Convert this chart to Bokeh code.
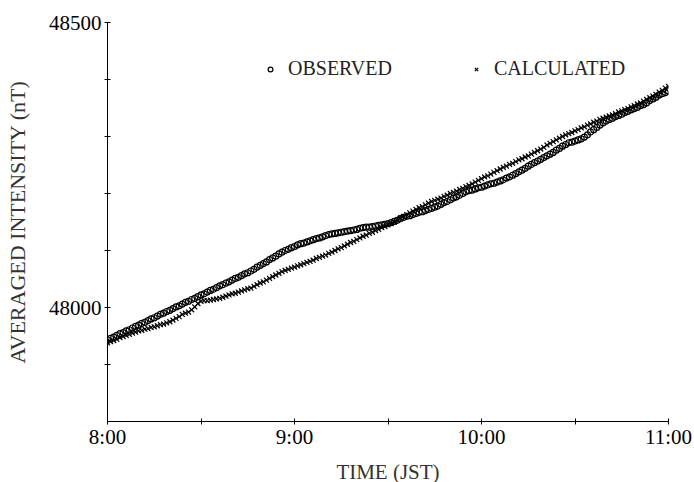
from bokeh.plotting import figure
from bokeh.models import Range1d, FixedTicker, Legend, LegendItem
from bokeh.embed import file_html
from bokeh.resources import INLINE

# minutes after 8:00 JST
minutes = list(range(0, 181))

observed = [
    47943, 47946, 47948, 47951, 47954, 47956, 47959, 47961, 47964, 47967,
    47969, 47972, 47974, 47977, 47980, 47982, 47985, 47988, 47990, 47993,
    47995, 47998, 48001, 48003, 48006, 48009, 48011, 48014, 48016, 48019,
    48022, 48024, 48027, 48030, 48032, 48035, 48038, 48040, 48043, 48045,
    48048, 48051, 48053, 48056, 48059, 48061, 48064, 48067, 48071, 48074,
    48077, 48080, 48084, 48087, 48090, 48094, 48097, 48100, 48102, 48105,
    48107, 48110, 48112, 48113, 48115, 48117, 48119, 48121, 48122, 48124,
    48126, 48128, 48129, 48130, 48131, 48132, 48133, 48134, 48135, 48136,
    48137, 48139, 48140, 48141, 48141, 48142, 48143, 48144, 48145, 48146,
    48147, 48149, 48151, 48153, 48156, 48158, 48160, 48161, 48163, 48165,
    48167, 48168, 48170, 48172, 48174, 48176, 48178, 48181, 48184, 48186,
    48189, 48192, 48194, 48197, 48200, 48203, 48205, 48206, 48208, 48210,
    48211, 48213, 48215, 48217, 48218, 48220, 48222, 48224, 48227, 48229,
    48232, 48235, 48238, 48241, 48244, 48248, 48251, 48254, 48257, 48260,
    48263, 48266, 48269, 48272, 48276, 48279, 48283, 48286, 48289, 48290,
    48292, 48294, 48296, 48299, 48303, 48308, 48312, 48316, 48320, 48324,
    48327, 48330, 48332, 48335, 48337, 48339, 48342, 48344, 48347, 48349,
    48351, 48354, 48356, 48359, 48363, 48366, 48369, 48373, 48375, 48377,
    48380,
]

calculated = [
    47938, 47940, 47942, 47944, 47947, 47949, 47951, 47953, 47955, 47957,
    47959, 47960, 47962, 47963, 47965, 47966, 47968, 47970, 47971, 47973,
    47975, 47978, 47981, 47984, 47988, 47990, 47992, 47996, 48001, 48007,
    48011, 48012, 48012, 48013, 48014, 48015, 48016, 48018, 48020, 48022,
    48024, 48025, 48027, 48029, 48031, 48033, 48034, 48037, 48040, 48043,
    48045, 48048, 48051, 48054, 48057, 48060, 48063, 48065, 48067, 48069,
    48071, 48073, 48075, 48077, 48079, 48081, 48083, 48086, 48088, 48090,
    48092, 48095, 48097, 48100, 48103, 48105, 48108, 48111, 48114, 48116,
    48119, 48122, 48125, 48127, 48130, 48132, 48135, 48137, 48140, 48142,
    48145, 48147, 48150, 48153, 48157, 48160, 48163, 48166, 48169, 48172,
    48175, 48177, 48180, 48183, 48186, 48188, 48190, 48192, 48195, 48197,
    48200, 48202, 48204, 48207, 48209, 48212, 48214, 48217, 48220, 48223,
    48226, 48229, 48231, 48234, 48237, 48240, 48243, 48246, 48248, 48251,
    48253, 48256, 48259, 48261, 48264, 48266, 48269, 48272, 48275, 48278,
    48281, 48285, 48288, 48291, 48294, 48297, 48300, 48303, 48305, 48307,
    48310, 48312, 48315, 48317, 48320, 48322, 48325, 48327, 48330, 48332,
    48334, 48336, 48338, 48340, 48343, 48345, 48347, 48349, 48352, 48354,
    48357, 48359, 48362, 48365, 48368, 48371, 48374, 48378, 48381, 48385,
    48388,
]

x_major = [0, 60, 120, 180]
x_minor = [30, 90, 150]
x_labels = ["8:00", "9:00", "10:00", "11:00"]
y_major = [48000, 48500]
y_minor = [47900, 48100, 48200, 48300, 48400]

FONT = "Liberation Serif"

p = figure(frame_width=561, frame_height=399, output_backend="svg",
           toolbar_location=None,
           x_range=Range1d(0, 180), y_range=Range1d(47800, 48500),
           min_border_left=107, min_border_right=26, min_border_top=22,
           min_border_bottom=56)
p.outline_line_color = None
p.xgrid.visible = False
p.ygrid.visible = False
p.background_fill_color = "white"
p.border_fill_color = "white"

r_obs = p.scatter(minutes, observed, marker="circle", size=6, line_color="black",
                  fill_color=None, line_width=1.2)
r_calc = p.scatter(minutes, calculated, marker="x", size=7, line_color="black",
                   line_width=1.2)

for ax in (p.xaxis[0], p.yaxis[0]):
    ax.axis_line_color = "black"
    ax.axis_line_width = 1
    ax.major_tick_in = 3
    ax.major_tick_out = 3
    ax.minor_tick_in = 3
    ax.minor_tick_out = 3
    ax.major_tick_line_color = "black"
    ax.minor_tick_line_color = "black"
    ax.major_label_text_font = FONT
    ax.major_label_text_font_size = "21px"
    ax.major_label_text_color = "black"
    ax.axis_label_text_font = FONT
    ax.axis_label_text_font_size = "21px"
    ax.axis_label_text_font_style = "normal"
    ax.axis_label_text_color = "#333333"

p.xaxis.ticker = FixedTicker(ticks=x_major, minor_ticks=x_minor)
p.xaxis.major_label_overrides = {t: l for t, l in zip(x_major, x_labels)}
p.xaxis.major_label_standoff = 0
p.xaxis.axis_label = "TIME (JST)"
p.xaxis.axis_label_standoff = 8

p.yaxis.ticker = FixedTicker(ticks=y_major, minor_ticks=y_minor)
p.yaxis.major_label_orientation = "horizontal"
p.yaxis.major_label_standoff = 3
p.yaxis.axis_label = "AVERAGED INTENSITY (nT)"
p.yaxis.axis_label_text_font_size = "22px"
p.yaxis.axis_label_standoff = 16

legend = Legend(items=[LegendItem(label="OBSERVED", renderers=[r_obs]),
                       LegendItem(label="CALCULATED", renderers=[r_calc])],
                orientation="horizontal", location=(157, 341),
                glyph_width=12, glyph_height=20, label_standoff=12, spacing=78,
                padding=0, margin=0, border_line_color=None,
                background_fill_alpha=0,
                label_text_font=FONT, label_text_font_size="20px",
                label_text_color="#222222")
p.add_layout(legend, "center")

open("out.html", "w").write(file_html(p, INLINE))
